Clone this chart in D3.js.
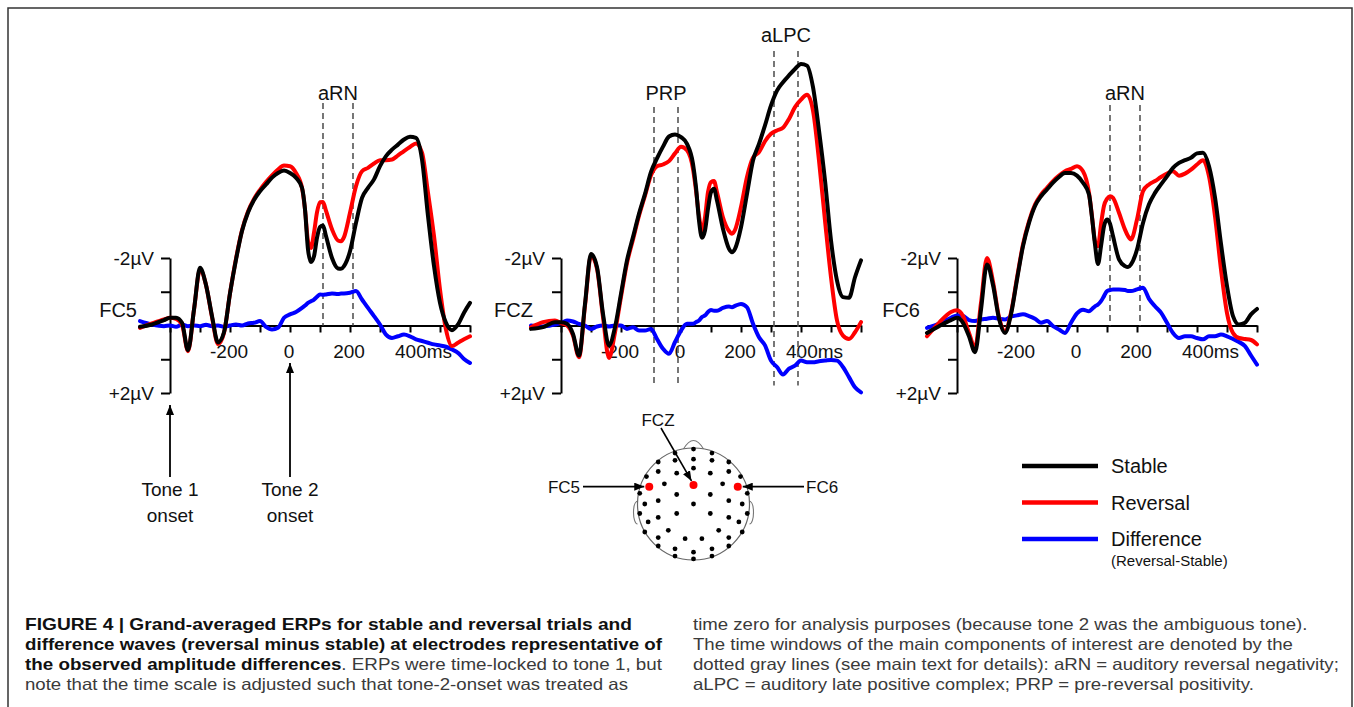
<!DOCTYPE html>
<html>
<head>
<meta charset="utf-8">
<script src="https://cdn.jsdelivr.net/npm/d3@7"></script>
<style>
  body { margin: 0; background: #fff; }
  svg text { font-family: "Liberation Sans", Arial, sans-serif; fill: #111; }
</style>
</head>
<body>
<svg id="fig" width="1354" height="707"></svg>
<script>
// ERP grand averages, values in microvolts (negative plotted upward)

var times = [-500,-460,-420,-400,-380,-360,-340,-320,-300,-280,-260,-240,-220,-200,-180,-160,-140,-120,-100,-80,-60,-40,-20,
  0,20,40,50,60,70,80,90,100,110,120,140,160,170,180,200,220,240,260,280,300,320,340,360,380,400,420,440,460,480,500,520,540,560,580,600];

var fc5Stable = [0.04,-0.03,-0.16,-0.23,-0.23,-0.08,0.73,-0.47,-1.71,-1.2,-0.28,0.5,0.2,-0.95,-1.95,-2.8,-3.35,-3.72,-3.98,-4.18,-4.38,-4.52,-4.59,
  -4.52,-4.38,-4.08,-3.44,-2.25,-1.88,-2.05,-2.6,-2.92,-2.96,-2.65,-2.0,-1.69,-1.68,-1.76,-2.2,-3.04,-3.78,-4.08,-4.33,-4.72,-5.02,-5.21,-5.36,-5.51,-5.59,-5.56,-4.92,-3.24,-1.76,-0.67,-0.08,0.14,-0.03,-0.38,-0.67];
var fc5Reversal = [0.07,-0.06,-0.18,-0.23,-0.2,-0.03,0.76,-0.47,-1.66,-1.2,-0.25,0.55,0.22,-0.95,-1.98,-2.82,-3.38,-3.75,-4.02,-4.25,-4.45,-4.62,-4.74,
  -4.72,-4.52,-4.08,-3.44,-2.5,-2.3,-2.75,-3.35,-3.65,-3.66,-3.4,-2.85,-2.52,-2.5,-2.62,-3.34,-4.13,-4.57,-4.67,-4.8,-4.9,-4.9,-4.92,-5.04,-5.17,-5.29,-5.39,-5.12,-3.93,-2.65,-1.07,0.12,0.61,0.51,0.41,0.32];
var fc5Difference = [-0.13,-0.03,0.02,0,0.04,-0.03,0.02,0,0.02,-0.02,0.02,0,0.04,0,-0.03,0,-0.06,-0.08,-0.13,0.04,0.12,0.07,-0.23,
  -0.33,-0.4,-0.52,-0.59,-0.67,-0.72,-0.77,-0.85,-0.92,-0.91,-0.92,-0.95,-0.93,-0.95,-0.95,-0.97,-1.02,-0.77,-0.52,-0.28,-0.03,0.27,0.37,0.32,0.27,0.32,0.41,0.46,0.51,0.56,0.59,0.63,0.71,0.81,0.99,1.11];

var fczStable = [0.1,0.05,-0.1,-0.1,-0.05,0.25,0.89,-0.64,-2.12,-1.73,-0.35,0.59,0.05,-0.94,-1.93,-2.62,-3.31,-3.9,-4.55,-4.95,-5.3,-5.6,-5.66,
  -5.58,-5.38,-4.79,-4.1,-3.11,-2.6,-2.81,-3.46,-3.95,-4.05,-3.7,-2.86,-2.27,-2.17,-2.27,-2.91,-3.9,-4.89,-5.38,-5.93,-6.52,-6.96,-7.21,-7.41,-7.6,-7.75,-7.7,-7.06,-5.78,-4.3,-2.52,-1.33,-0.84,-0.82,-1.43,-1.93];
var fczReversal = [0.05,-0.1,-0.15,-0.07,0,0.3,0.94,-0.59,-2.07,-1.68,-0.25,0.96,0.2,-0.85,-1.85,-2.55,-3.25,-3.85,-4.45,-4.72,-4.77,-4.87,-5.1,
  -5.3,-5.19,-4.64,-4.0,-3.25,-2.8,-3.2,-3.95,-4.25,-4.28,-3.95,-3.2,-2.8,-2.72,-2.83,-3.51,-4.4,-4.97,-5.14,-5.46,-5.68,-5.78,-5.86,-6.12,-6.47,-6.69,-6.84,-6.37,-4.89,-3.11,-1.43,-0.15,0.3,0.4,0.2,-0.1];
var fczDifference = [0,0.03,-0.03,-0.07,-0.15,-0.12,-0.05,0,0.1,0.03,0,0.03,0,0,0.1,0.05,0.15,0.15,0.1,0.4,0.69,0.84,0.49,
  0.15,-0.05,-0.05,-0.1,-0.15,-0.25,-0.3,-0.4,-0.46,-0.44,-0.44,-0.52,-0.56,-0.54,-0.58,-0.64,-0.54,-0.05,0.35,0.59,1.04,1.23,1.45,1.28,1.19,1.04,1.09,1.09,1.06,1.04,1.02,1.04,1.23,1.53,1.83,1.98];

var fc6Stable = [0.22,0.02,-0.16,-0.23,-0.08,0.32,0.79,-0.47,-1.81,-1.2,-0.2,0.22,-0.33,-1.36,-2.35,-3.04,-3.54,-3.83,-4.03,-4.23,-4.4,-4.52,-4.52,
  -4.44,-4.23,-3.88,-3.2,-2.4,-1.82,-2.35,-2.94,-3.14,-3.02,-2.65,-1.96,-1.76,-1.73,-1.81,-2.25,-3.04,-3.59,-3.93,-4.18,-4.42,-4.67,-4.82,-4.9,-4.97,-5.1,-5.12,-4.72,-3.8,-2.42,-1.17,-0.28,-0.03,-0.08,-0.33,-0.49];
var fc6Reversal = [0.32,-0.08,-0.4,-0.45,-0.28,0.22,0.66,-0.67,-2.0,-1.3,-0.25,0.17,-0.38,-1.41,-2.4,-3.09,-3.58,-3.88,-4.08,-4.28,-4.44,-4.57,-4.64,
  -4.72,-4.57,-3.93,-3.24,-2.5,-2.35,-3.0,-3.55,-3.75,-3.83,-3.78,-3.34,-2.84,-2.65,-2.55,-3.14,-3.98,-4.18,-4.28,-4.4,-4.5,-4.57,-4.44,-4.5,-4.62,-4.77,-4.9,-4.42,-3.24,-1.66,-0.37,0.22,0.37,0.4,0.43,0.56];
var fc6Difference = [0.07,-0.06,-0.23,-0.3,-0.28,-0.16,-0.13,-0.18,-0.2,-0.23,-0.2,-0.18,-0.26,-0.3,-0.33,-0.28,-0.2,-0.08,-0.13,0.02,0.12,0.22,-0.08,
  -0.36,-0.47,-0.42,-0.49,-0.57,-0.62,-0.72,-0.87,-1.02,-1.05,-1.07,-1.07,-1.05,-1.02,-1.02,-1.07,-1.12,-0.79,-0.57,-0.38,-0.08,0.22,0.37,0.32,0.32,0.37,0.41,0.32,0.32,0.27,0.32,0.4,0.49,0.61,0.89,1.16];

var timeTicks = [-400,-300,-200,-100,0,100,200,300,400,500,600];
var timeTickLabels = [-200, 0, 200, 400];
var voltTicks = [-2, -1, 1, 2];
var voltLabels = [-2, 2];

var seriesNames = ['Stable', 'Reversal', 'Difference'];
var seriesColors = ['#000000', '#ff0000', '#0000ff'];

// scalp sites, normalised to head radius; right hemisphere sites are mirrored
var midlineSites = [-0.98, -0.80, -0.64, 0, 0.86, 0.98];
var lateralSites = [[0.33,-0.91],[0.33,-0.78],[0.63,-0.75],[0.30,-0.55],[0.63,-0.58],[0.84,-0.49],[0.52,-0.36],
  [0.96,-0.19],[0.30,-0.17],[0.63,-0.06],[0.87,0],[0.30,0.17],[0.63,0.24],[0.96,0.17],[0.81,0.32],[0.45,0.47],
  [0.87,0.50],[0.63,0.60],[0.15,0.62],[0.63,0.75],[0.33,0.80],[0.33,0.93]];
var shownSites = [['FC5', -0.79, -0.31], ['FCZ', 0, -0.34], ['FC6', 0.79, -0.31]];

var captionLeft = [
  [['b', 'FIGURE 4 | Grand-averaged ERPs for stable and reversal trials and']],
  [['b', 'difference waves (reversal minus stable) at electrodes representative of']],
  [['b', 'the observed amplitude differences'], ['r', '. ERPs were time-locked to tone 1, but']],
  [['r', 'note that the time scale is adjusted such that tone-2-onset was treated as']]
];
var captionRight = [
  [['r', 'time zero for analysis purposes (because tone 2 was the ambiguous tone).']],
  [['r', 'The time windows of the main components of interest are denoted by the']],
  [['r', 'dotted gray lines (see main text for details): aRN = auditory reversal negativity;']],
  [['r', 'aLPC = auditory late positive complex; PRP = pre-reversal positivity.']]
];

var panels = [
  { name: 'FC5', x0: 140, labelGap: 33, series: [fc5Stable, fc5Reversal, fc5Difference],
    windows: [{ label: 'aRN', from: 110, to: 210, top: 103, bottom: 0, labelY: 100 }] },
  { name: 'FCZ', x0: 531, labelGap: 28, series: [fczStable, fczReversal, fczDifference],
    windows: [{ label: 'PRP', from: -90, to: -10, top: 107, bottom: 1.78, labelY: 100 },
              { label: 'aLPC', from: 310, to: 390, top: 51, bottom: 1.78, labelY: 42 }] },
  { name: 'FC6', x0: 927, labelGap: 37, series: [fc6Stable, fc6Reversal, fc6Difference],
    windows: [{ label: 'aRN', from: 110, to: 210, top: 105, bottom: 0, labelY: 100 }] }
];

var svg = d3.select('#fig');

var defs = svg.append('defs');
defs.append('marker')
  .attr('id', 'head')
  .attr('markerUnits', 'userSpaceOnUse')
  .attr('markerWidth', 10).attr('markerHeight', 8)
  .attr('refX', 10).attr('refY', 4)
  .attr('orient', 'auto')
  .append('path').attr('d', 'M0,0 L10,4 L0,8 Z').attr('fill', '#000');

// frame round the figure
svg.append('path')
  .attr('d', 'M8,707 V8 H1352 V707')
  .attr('fill', 'none').attr('stroke', '#333').attr('stroke-width', 1.5);

var y = d3.scaleLinear().domain([-2, 2]).range([258, 393]);

var drawPanel = function(p) {
  var x = d3.scaleLinear().domain([-500, 600]).range([p.x0, p.x0 + 330]);
  var g = svg.append('g').attr('class', 'panel');

  // x axis on the zero line
  g.append('g')
    .attr('transform', 'translate(0,' + y(0) + ')')
    .call(d3.axisBottom(x).tickValues(timeTicks).tickSize(7).tickSizeOuter(0).tickFormat(''))
    .call(function(a) { a.selectAll('path,line').attr('stroke', '#000').attr('stroke-width', 2); });

  // y axis at tone 1 onset
  g.append('g')
    .attr('transform', 'translate(' + x(-400) + ',0)')
    .call(d3.axisLeft(y).tickValues(voltTicks).tickSize(9).tickSizeOuter(0).tickFormat(''))
    .call(function(a) { a.selectAll('path,line').attr('stroke', '#000').attr('stroke-width', 2); });

  g.selectAll('text.tlab').data(timeTickLabels).enter().append('text')
    .attr('class', 'tlab')
    .attr('x', function(d) { return d === 400 ? x(d) - 15 : x(d) - 1; })
    .attr('y', 358)
    .attr('text-anchor', function(d) { return d === 400 ? 'start' : 'middle'; })
    .style('font-size', '19px')
    .text(function(d) { return d === 400 ? d + 'ms' : d; });

  g.selectAll('text.vlab').data(voltLabels).enter().append('text')
    .attr('class', 'vlab')
    .attr('x', x(-400) - 16)
    .attr('y', function(d) { return y(d); })
    .attr('dy', '0.36em')
    .attr('text-anchor', 'end')
    .style('font-size', '19px')
    .text(function(d) { return (d < 0 ? '-' : '+') + Math.abs(d) + 'µV'; });

  g.append('text')
    .attr('x', x(-400) - p.labelGap).attr('y', 317)
    .attr('text-anchor', 'end')
    .style('font-size', '20px')
    .text(p.name);

  // component windows
  p.windows.forEach(function(w) {
    [w.from, w.to].forEach(function(t) {
      g.append('line')
        .attr('x1', x(t)).attr('x2', x(t))
        .attr('y1', w.top).attr('y2', y(w.bottom))
        .attr('stroke', '#555').attr('stroke-width', 1.6)
        .attr('stroke-dasharray', '6,4');
    });
    g.append('text')
      .attr('x', (x(w.from) + x(w.to)) / 2).attr('y', w.labelY)
      .attr('text-anchor', 'middle')
      .style('font-size', '20px')
      .text(w.label);
  });

  var line = d3.line()
    .x(function(d, i) { return x(times[i]); })
    .y(function(d) { return y(d); })
    .curve(d3.curveMonotoneX);

  // difference first, stable on top
  [2, 1, 0].forEach(function(k) {
    g.append('path')
      .datum(p.series[k])
      .attr('d', line)
      .attr('fill', 'none')
      .attr('stroke', seriesColors[k])
      .attr('stroke-width', 4)
      .attr('stroke-linejoin', 'round')
      .attr('stroke-linecap', 'round');
  });

  return x;
};

var xs = panels.map(drawPanel);

// tone onset arrows under the first panel
var tones = [['Tone 1', -400, 405], ['Tone 2', 0, 363]];
tones.forEach(function(t) {
  var tx = xs[0](t[1]);
  svg.append('line')
    .attr('x1', tx).attr('x2', tx).attr('y1', 477).attr('y2', t[2])
    .attr('stroke', '#000').attr('stroke-width', 1.8)
    .attr('marker-end', 'url(#head)');
  svg.append('text').attr('x', tx).attr('y', 496).attr('text-anchor', 'middle')
    .style('font-size', '19px').text(t[0]);
  svg.append('text').attr('x', tx).attr('y', 522).attr('text-anchor', 'middle')
    .style('font-size', '19px').text('onset');
});

// electrode montage
var head = { cx: 693.5, cy: 504, r: 56 };
var hx = d3.scaleLinear().domain([-1, 1]).range([head.cx - head.r, head.cx + head.r]);
var hy = d3.scaleLinear().domain([-1, 1]).range([head.cy - head.r, head.cy + head.r]);
var hg = svg.append('g').attr('class', 'head');

hg.append('path')
  .attr('d', 'M' + (head.cx - 10) + ',' + (head.cy - head.r + 1) +
    ' Q' + head.cx + ',' + (head.cy - head.r - 16) + ' ' + (head.cx + 10) + ',' + (head.cy - head.r + 1))
  .attr('fill', 'none').attr('stroke', '#777').attr('stroke-width', 1.1);
[-1, 1].forEach(function(s) {
  var ex = head.cx + s * (head.r - 1);
  hg.append('path')
    .attr('d', 'M' + ex + ',' + (head.cy - 3) + ' C' + (ex + s * 7) + ',' + (head.cy - 3) + ' ' +
      (ex + s * 6) + ',' + (head.cy + 20) + ' ' + (ex + s * 1) + ',' + (head.cy + 20))
    .attr('fill', 'none').attr('stroke', '#777').attr('stroke-width', 1.1);
});
hg.append('circle')
  .attr('cx', head.cx).attr('cy', head.cy).attr('r', head.r)
  .attr('fill', '#fff').attr('stroke', '#666').attr('stroke-width', 1.2);

var sites = midlineSites.map(function(v) { return [0, v]; });
lateralSites.forEach(function(s) { sites.push([s[0], s[1]]); sites.push([-s[0], s[1]]); });
hg.selectAll('circle.site').data(sites).enter().append('circle')
  .attr('class', 'site')
  .attr('cx', function(d) { return hx(d[0]); })
  .attr('cy', function(d) { return hy(d[1]); })
  .attr('r', 2.4).attr('fill', '#000');
hg.selectAll('circle.shown').data(shownSites).enter().append('circle')
  .attr('class', 'shown')
  .attr('cx', function(d) { return hx(d[1]); })
  .attr('cy', function(d) { return hy(d[2]); })
  .attr('r', 4).attr('fill', '#ff0000');

var fc5 = shownSites[0], fcz = shownSites[1], fc6 = shownSites[2];
hg.append('line').attr('x1', 583).attr('y1', hy(fc5[2])).attr('x2', hx(fc5[1]) - 5).attr('y2', hy(fc5[2]))
  .attr('stroke', '#000').attr('stroke-width', 1.6).attr('marker-end', 'url(#head)');
hg.append('line').attr('x1', 804).attr('y1', hy(fc6[2])).attr('x2', hx(fc6[1]) + 5).attr('y2', hy(fc6[2]))
  .attr('stroke', '#000').attr('stroke-width', 1.6).attr('marker-end', 'url(#head)');
hg.append('line').attr('x1', 661).attr('y1', 428).attr('x2', hx(fcz[1]) - 2).attr('y2', hy(fcz[2]) - 4)
  .attr('stroke', '#000').attr('stroke-width', 1.6).attr('marker-end', 'url(#head)');
hg.append('text').attr('x', 580).attr('y', hy(fc5[2]) + 6).attr('text-anchor', 'end').style('font-size', '17px').text('FC5');
hg.append('text').attr('x', 806).attr('y', hy(fc6[2]) + 6).attr('text-anchor', 'start').style('font-size', '17px').text('FC6');
hg.append('text').attr('x', 658).attr('y', 426).attr('text-anchor', 'middle').style('font-size', '17px').text('FCZ');

// legend
var lg = svg.append('g').attr('class', 'legend');
seriesNames.forEach(function(name, i) {
  var ly = 466 + i * 36.5;
  lg.append('line').attr('x1', 1022).attr('x2', 1098).attr('y1', ly).attr('y2', ly)
    .attr('stroke', seriesColors[i]).attr('stroke-width', 4.5);
  lg.append('text').attr('x', 1111).attr('y', ly + 7).style('font-size', '20px').text(name);
});
lg.append('text').attr('x', 1111).attr('y', 566).style('font-size', '15px').text('(Reversal-Stable)');

// caption, two columns of the same running text
var cap = svg.append('g').attr('class', 'caption');
var writeColumn = function(lines, x0) {
  return lines.map(function(parts, i) {
    var t = cap.append('text')
      .attr('x', x0).attr('y', 630 + i * 20)
      .style('font-size', '16.5px');
    parts.forEach(function(pt) {
      t.append('tspan')
        .style('font-weight', pt[0] === 'b' ? 'bold' : 'normal')
        .style('fill', pt[0] === 'b' ? '#111' : '#3a3a3a')
        .text(pt[1]);
    });
    return t;
  });
};
var leftTexts = writeColumn(captionLeft, 25);
var rightTexts = writeColumn(captionRight, 693);
var leftEnds = [632, 662, 662, 628];
var leftNatural = leftTexts.map(function(t) { return t.node().getComputedTextLength(); });
var rightNatural = rightTexts.map(function(t) { return t.node().getComputedTextLength(); });
// the regular weight last left line sets the stretch for the right column
var stretch = (leftEnds[3] - 25) / leftNatural[3];
leftTexts.forEach(function(t, i) {
  t.attr('textLength', leftEnds[i] - 25).attr('lengthAdjust', 'spacingAndGlyphs');
});
rightTexts.forEach(function(t, i) {
  t.attr('textLength', rightNatural[i] * stretch).attr('lengthAdjust', 'spacingAndGlyphs');
});
</script>
</body>
</html>
